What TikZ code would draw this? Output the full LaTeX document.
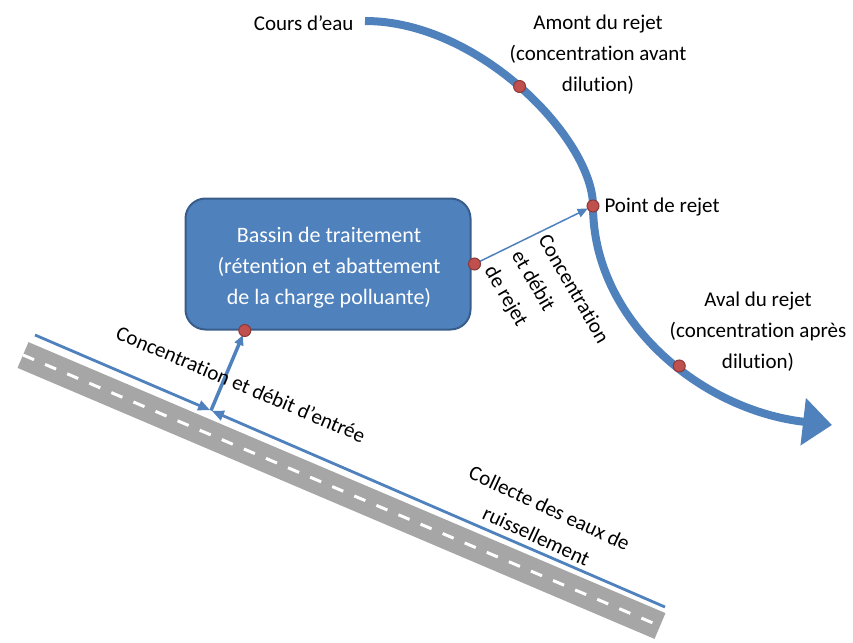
\documentclass[tikz,border=0pt]{standalone}
\usepackage{fontspec}
\setmainfont{Carlito}[Ligatures=NoCommon]
\usetikzlibrary{calc,arrows.meta}
\definecolor{bleu}{HTML}{4F81BD}
\definecolor{bleufonce}{HTML}{385D8A}
\definecolor{rouge}{HTML}{C0504D}
\definecolor{rougefonce}{HTML}{8C3836}
\definecolor{gris}{HTML}{A6A6A6}
\begin{document}
\begin{tikzpicture}[x=1pt,y=-1pt,
    every node/.style={font=\fontsize{21}{31}\selectfont},
    riviere/.style={draw=bleu,line width=8pt,-{Triangle[length=29pt,width=46pt]}},
    route/.style={draw=gris,line width=28pt},
    marquage/.style={draw=white,line width=3pt,dash pattern=on 12pt off 12pt},
    collecte/.style={draw=bleu,line width=2.8pt,-{Triangle[length=12pt,width=10pt]},shorten >=1pt},
    flux/.style={draw=bleu,-{Triangle[length=10pt,width=9pt]}},
    point/.style={circle,fill=rouge,draw=rougefonce,line width=1pt,minimum size=12pt,inner sep=0pt},
    bassin/.style={rectangle,rounded corners=20pt,fill=bleu,draw=bleufonce,line width=2pt,
      minimum width=285pt,minimum height=131pt},
    bassintexte/.style={text=white,align=center,font=\fontsize{22}{31}\selectfont}]
  \useasboundingbox (0,0) rectangle (853,642);
  % route et collecte
  \coordinate(routeA)at(23,355);\coordinate(routeB)at(660,626);
  \coordinate(collA)at(35,335);\coordinate(collB)at(665,607);\coordinate(jonction)at(211,410.5);
  \draw[route](routeA)--(routeB);
  \draw[marquage](routeA)--(routeB);
  \draw[collecte](collA)--(jonction);
  \draw[collecte](collB)--(jonction);
  % bassin
  \node[bassin](bassin)at(328,264){};
  \node[bassintexte](lbassin)at(329,268){Bassin de traitement\\(rétention et abattement\\de la charge polluante)};
  \coordinate(entree)at($(bassin.south west)!0.21!(bassin.south east)$);
  \coordinate(sortie)at($(bassin.east)+(3,0)$);
  \draw[flux,line width=3.5pt,shorten >=5pt](jonction)--(entree);
  % cours d'eau
  \draw[riviere](365,21) .. controls (480,21) and (593,140) .. (593,206) coordinate[pos=0.49](amont)
    coordinate(rejet) .. controls (593,320) and (700,410) .. (832,425) coordinate[pos=0.56](aval);
  \draw[flux,line width=1.5pt,shorten >=6pt](sortie)--(rejet);
  \foreach \P in{amont,rejet,aval,entree,sortie}{
    \node[point]at(\P){};
  }
  % textes
  \node[anchor=east](lcours)at(357,23){Cours d’eau};
  \node[align=center](lamont)at(598,55){Amont du rejet\\(concentration avant\\dilution)};
  \node[anchor=west](lrejet)at(601,207){Point de rejet};
  \node[align=center](laval)at(758,332){Aval du rejet\\(concentration après\\dilution)};
  \node[rotate=-60,align=left](lsortie)at(546,305){Concentration\\et débit\\de rejet};
  \node[rotate=-23](lentree)at(241,384){Concentration et débit d’entrée};
  \node[rotate=-25,align=center](lcollecte)at(543,522){Collecte des eaux de\\ruissellement};
\end{tikzpicture}
\end{document}
